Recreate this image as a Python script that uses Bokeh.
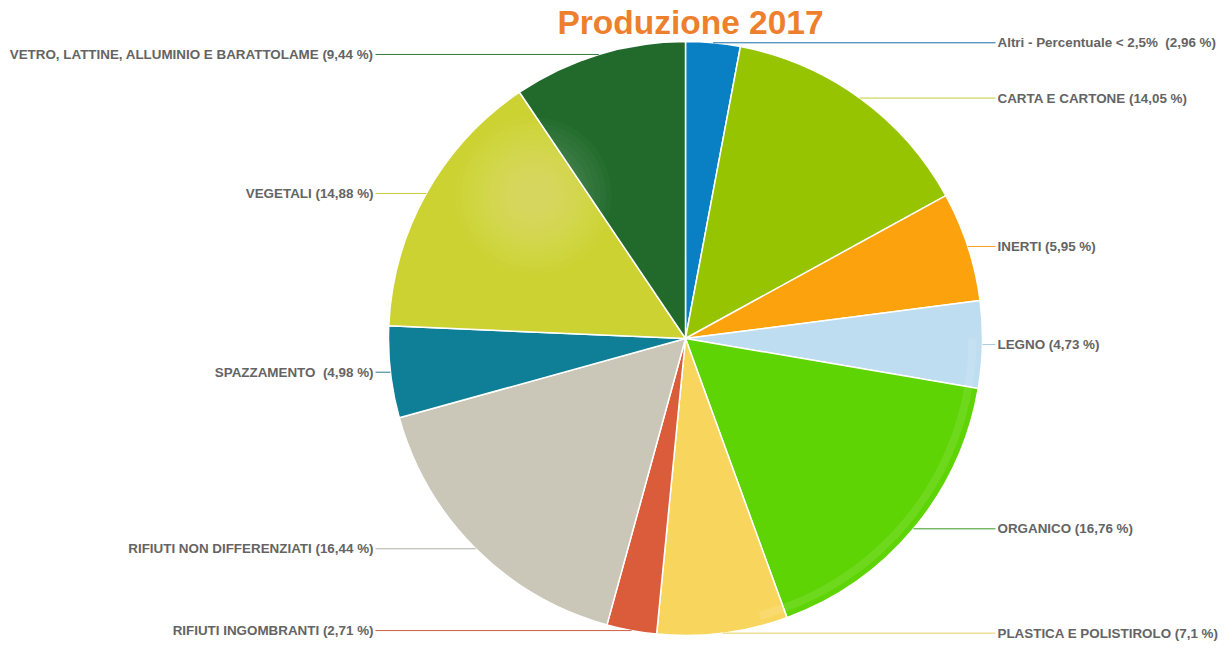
import math
from bokeh.plotting import figure
from bokeh.models import Range1d, ColumnDataSource
from bokeh.core.properties import value
from bokeh.embed import file_html
from bokeh.resources import INLINE

# ---- data ----
categories = [
    "Altri - Percentuale < 2,5% \u00a0(2,96 %)",
    "CARTA E CARTONE (14,05 %)",
    "INERTI (5,95 %)",
    "LEGNO (4,73 %)",
    "ORGANICO (16,76 %)",
    "PLASTICA E POLISTIROLO (7,1 %)",
    "RIFIUTI INGOMBRANTI (2,71 %)",
    "RIFIUTI NON DIFFERENZIATI (16,44 %)",
    "SPAZZAMENTO \u00a0(4,98 %)",
    "VEGETALI (14,88 %)",
    "VETRO, LATTINE, ALLUMINIO E BARATTOLAME (9,44 %)",
]
percent = [2.96, 14.05, 5.95, 4.73, 16.76, 7.1, 2.71, 16.44, 4.98, 14.88, 9.44]
colors = ["#0A80C4", "#96C400", "#FBA20C", "#BFDDF1", "#5ED404", "#F8D65E",
          "#DB5C3A", "#CBC7B8", "#0E7F96", "#CCD232", "#216A2C"]
line_colors = ["#1B6FA8", "#C8CC3C", "#F5A020", "#A8C8DC", "#3C9A20", "#E8D060",
               "#D06040", "#B0AEA6", "#2A7A8C", "#C8CC3C", "#2F7A3A"]
title_text = "Produzione 2017"

# ---- geometry (screen pixels: x = X, y = 648 - Y) ----
W, H = 1228, 648
cx, cy, R = 685, 648 - 338, 297

total = sum(percent)
starts, ends, mids = [], [], []
c = 0.0
for v in percent:
    a0 = math.pi / 2 - 2 * math.pi * c / total
    c += v
    a1 = math.pi / 2 - 2 * math.pi * c / total
    starts.append(a1)
    ends.append(a0)
    mids.append((a0 + a1) / 2)

src = ColumnDataSource(dict(start=starts, end=ends, color=colors))

p = figure(width=W, height=H, output_backend="svg", toolbar_location=None,
           x_range=Range1d(0, W), y_range=Range1d(648 - H, 648),
           min_border=0)
p.axis.visible = False
p.grid.visible = False
p.outline_line_color = None
p.background_fill_color = "white"

p.wedge(x=cx, y=cy, radius=R, start_angle="start", end_angle="end",
        direction="anticlock", fill_color="color", line_color="white",
        line_width=1.5, source=src)

# soft highlight (glossy light)
for k in range(12):
    rr = 78 - k * 5.5
    p.circle(x=cx - 152, y=648 - 195, radius=rr, fill_color="white",
             fill_alpha=0.022, line_color=None)
# rim light on right side
p.annular_wedge(x=cx, y=cy, inner_radius=R - 14, outer_radius=R - 6,
                start_angle=math.radians(-75), end_angle=math.radians(0),
                fill_color="white", fill_alpha=0.10, line_color=None)

# leader lines and labels
lx0, ly0, lx1, ly1, lc = [], [], [], [], []
rt_x, rt_y, rt_t = [], [], []
lt_x, lt_y, lt_t = [], [], []
for name, m, col in zip(categories, mids, line_colors):
    px = cx + R * math.cos(m)
    py = cy + R * math.sin(m)
    if math.cos(m) >= 0:
        lx0.append(px); lx1.append(995)
        rt_x.append(997); rt_y.append(py); rt_t.append(name)
    else:
        lx0.append(px); lx1.append(375)
        lt_x.append(373); lt_y.append(py); lt_t.append(name)
    ly0.append(py); ly1.append(py); lc.append(col)

p.segment(x0=lx0, y0=ly0, x1=lx1, y1=ly1, line_color=lc, line_width=1)

p.text(x=rt_x, y=rt_y, text=rt_t, text_font=value("Liberation Sans"),
       text_font_style="bold", text_font_size="13.4px", text_color="#646464",
       text_align="left", text_baseline="middle")
p.text(x=lt_x, y=lt_y, text=lt_t, text_font=value("Liberation Sans"),
       text_font_style="bold", text_font_size="13.4px", text_color="#646464",
       text_align="right", text_baseline="middle")

p.text(x=[690], y=[648 - 22], text=[title_text], text_font=value("Liberation Sans"),
       text_font_style="bold", text_font_size="33.5px", text_color="#EE7F2D",
       text_align="center", text_baseline="middle")

open("out.html", "w").write(file_html(p, INLINE))
